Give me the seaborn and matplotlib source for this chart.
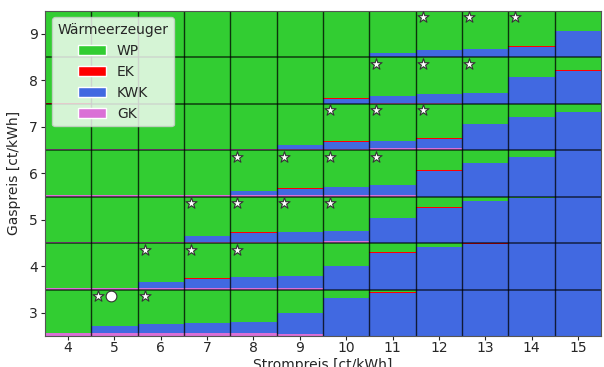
import numpy as np
import matplotlib
matplotlib.use("Agg")
import matplotlib.pyplot as plt
import seaborn as sns
from matplotlib.patches import Patch

# Price grid
strompreis = [4, 5, 6, 7, 8, 9, 10, 11, 12, 13, 14, 15]
gaspreis = [3, 4, 5, 6, 7, 8, 9]

# Share of each heat generator per cell, one row per gas price (3..9),
# one entry per electricity price (4..15). WP takes the remainder.
gk_share = [
    [0.07, 0.07, 0.07, 0.07, 0.07, 0.04, 0.00, 0.00, 0.00, 0.00, 0.00, 0.00],
    [0.03, 0.03, 0.03, 0.03, 0.03, 0.03, 0.00, 0.00, 0.00, 0.00, 0.00, 0.00],
    [0.03, 0.03, 0.03, 0.03, 0.03, 0.03, 0.04, 0.00, 0.00, 0.00, 0.00, 0.00],
    [0.03, 0.03, 0.03, 0.03, 0.03, 0.03, 0.03, 0.04, 0.00, 0.00, 0.00, 0.00],
    [0.02, 0.02, 0.03, 0.03, 0.03, 0.03, 0.03, 0.04, 0.04, 0.00, 0.00, 0.00],
    [0.00, 0.00, 0.00, 0.00, 0.00, 0.00, 0.00, 0.02, 0.01, 0.00, 0.00, 0.00],
    [0.00, 0.00, 0.00, 0.00, 0.00, 0.00, 0.00, 0.01, 0.00, 0.00, 0.00, 0.00],
]
kwk_share = [
    [0.00, 0.14, 0.19, 0.21, 0.23, 0.46, 0.81, 0.93, 1.00, 1.00, 1.00, 1.00],
    [0.00, 0.00, 0.14, 0.20, 0.23, 0.26, 0.51, 0.79, 0.91, 0.985, 1.00, 1.00],
    [0.00, 0.00, 0.00, 0.11, 0.19, 0.21, 0.21, 0.54, 0.76, 0.91, 0.97, 1.00],
    [0.00, 0.00, 0.00, 0.00, 0.08, 0.14, 0.17, 0.21, 0.55, 0.73, 0.85, 1.00],
    [0.00, 0.00, 0.00, 0.00, 0.00, 0.07, 0.15, 0.16, 0.20, 0.55, 0.72, 0.82],
    [0.00, 0.00, 0.00, 0.00, 0.00, 0.00, 0.10, 0.14, 0.19, 0.22, 0.56, 0.70],
    [0.00, 0.00, 0.00, 0.00, 0.00, 0.00, 0.00, 0.07, 0.15, 0.17, 0.22, 0.55],
]
ek_share = [
    [0.00, 0.00, 0.00, 0.01, 0.01, 0.00, 0.01, 0.01, 0.00, 0.00, 0.00, 0.00],
    [0.00, 0.00, 0.00, 0.01, 0.01, 0.00, 0.00, 0.01, 0.01, 0.015, 0.00, 0.00],
    [0.00, 0.00, 0.00, 0.01, 0.01, 0.00, 0.01, 0.00, 0.01, 0.00, 0.00, 0.00],
    [0.00, 0.00, 0.00, 0.00, 0.00, 0.01, 0.00, 0.00, 0.01, 0.00, 0.01, 0.00],
    [0.00, 0.01, 0.00, 0.00, 0.00, 0.00, 0.01, 0.00, 0.01, 0.01, 0.00, 0.00],
    [0.01, 0.00, 0.00, 0.00, 0.00, 0.00, 0.01, 0.01, 0.01, 0.01, 0.01, 0.01],
    [0.01, 0.00, 0.00, 0.00, 0.01, 0.00, 0.01, 0.00, 0.01, 0.01, 0.01, 0.01],
]

# Marked cells (Strompreis, Gaspreis)
stern_strom = [5, 6, 6, 7, 8, 7, 8, 9, 10, 8, 9, 10, 11, 10, 11, 12, 11, 12, 13, 12, 13, 14]
stern_gas = [3, 3, 4, 4, 4, 5, 5, 5, 5, 6, 6, 6, 6, 7, 7, 7, 8, 8, 8, 9, 9, 9]

# Current operating point
punkt_strom = [4.93]
punkt_gas = [3.35]

farben = {"WP": "#32cd32", "EK": "#ff0000", "KWK": "#4169e1", "GK": "#da70d6"}

sns.set_style("ticks")
plt.rcParams["font.family"] = ["DejaVu Sans"]

fig = plt.figure(figsize=(6.04, 3.67), dpi=100)
ax = fig.add_axes([45 / 604, 31 / 367, 556 / 604, 325.5 / 367])

x = np.array(strompreis, dtype=float)
for i, g in enumerate(gaspreis):
    gk = np.array(gk_share[i])
    kwk = np.array(kwk_share[i])
    ek = np.array(ek_share[i])
    wp = np.clip(1.0 - gk - kwk - ek, 0, None)
    base = g - 0.5
    bottom = np.full_like(x, base)
    for name, vals in (("GK", gk), ("KWK", kwk), ("EK", ek), ("WP", wp)):
        ax.bar(x, vals, width=1.0, bottom=bottom, color=farben[name],
               linewidth=0, zorder=1)
        bottom = bottom + vals

# Cell borders
for v in np.arange(4.5, 15.0, 1.0):
    ax.axvline(v, color="black", lw=1.0, alpha=0.75, zorder=2)
for h in np.arange(3.5, 9.0, 1.0):
    ax.axhline(h, color="black", lw=1.1, alpha=0.7, zorder=2)

sns.scatterplot(x=np.array(stern_strom) - 0.35, y=np.array(stern_gas) + 0.35,
                marker="*", s=70, color="white", edgecolor="#333333",
                linewidth=0.8, zorder=4, ax=ax, legend=False)
sns.scatterplot(x=punkt_strom, y=punkt_gas, marker="o", s=60, color="white",
                edgecolor="#333333", linewidth=0.8, zorder=4, ax=ax, legend=False)

ax.set_xlim(3.5, 15.5)
ax.set_ylim(2.5, 9.5)
ax.set_xticks(strompreis)
ax.set_yticks(gaspreis)
ax.tick_params(labelsize=10, length=3)
ax.tick_params(axis="x", pad=0.5)
ax.tick_params(axis="y", pad=2)
ax.set_xlabel("Strompreis [ct/kWh]", fontsize=10, labelpad=2)
ax.set_ylabel("Gaspreis [ct/kWh]", fontsize=10, labelpad=6)
for s in ax.spines.values():
    s.set_color("#555555")

handles = [Patch(facecolor=farben[k], label=k) for k in ("WP", "EK", "KWK", "GK")]
ax.legend(handles=handles, title="Wärmeerzeuger", loc="upper left",
          fontsize=10, title_fontsize=10)

fig.savefig("out.png", dpi=100)
